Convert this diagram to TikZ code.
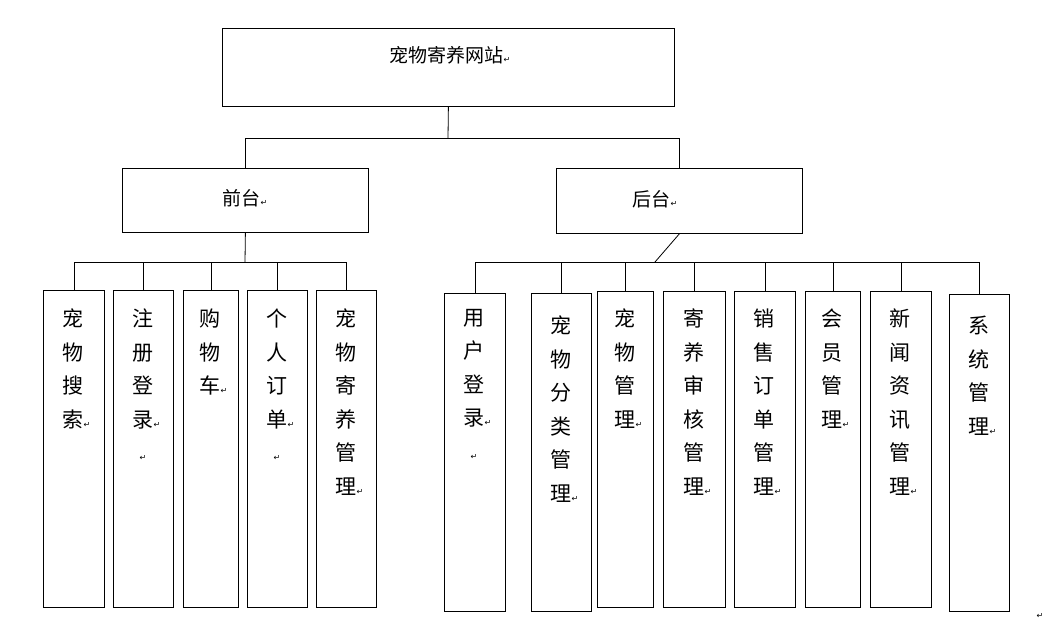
\documentclass[tikz,border=0pt]{standalone}
\usepackage{fontspec}
\setmainfont{Noto Sans CJK SC}
\newfontfamily\dvs{DejaVu Sans}
\newcommand\retm{{\dvs\fontsize{8}{8}\selectfont ↵}}
\newcommand\rr{\rlap{\retm}}
\begin{document}
\begin{tikzpicture}[x=1pt,y=-1pt,
  box/.style={draw,line width=0.8pt,anchor=north west,inner sep=0pt},
  vt/.style={anchor=north,align=center,inner sep=0pt,font=\fontsize{21}{33.5}\selectfont},
  ht/.style={inner sep=0pt,font=\fontsize{19}{22}\selectfont},
  ln/.style={line width=0.8pt}]
\useasboundingbox (0,0) rectangle (1061,634);
\node[box,minimum width=452pt,minimum height=78pt] (top) at (222,28) {};
\node[ht] (tt) at (450,55) {宠物寄养网站\retm};
\node[box,minimum width=246pt,minimum height=64pt] (fr) at (122,168) {};
\node[ht] (frt) at (245,198) {前台\retm};
\node[box,minimum width=246pt,minimum height=65pt] (bk) at (556,168) {};
\node[ht] (bkt) at (655,199) {后台\retm};
\coordinate (j0) at (448,138);
\draw[ln] (top.south) -- (j0);
\draw[ln] (j0) -| (fr.north);
\draw[ln] (j0) -| (bk.north);
% front leaves
\node[box,minimum width=61pt,minimum height=317pt] (f1) at (43,290) {};
\node[box,minimum width=60pt,minimum height=317pt] (f2) at (113,290) {};
\node[box,minimum width=55pt,minimum height=317pt] (f3) at (183,290) {};
\node[box,minimum width=60pt,minimum height=317pt] (f4) at (247,290) {};
\node[box,minimum width=60pt,minimum height=317pt] (f5) at (316,290) {};
\node[vt] (f1t) at (73,309) {宠\\物\\搜\\索\rr};
\node[vt] (f2t) at (143,309) {注\\册\\登\\录\rr\\\retm};
\node[vt] (f3t) at (210,309) {购\\物\\车\rr};
\node[vt] (f4t) at (277,309) {个\\人\\订\\单\rr\\\retm};
\node[vt] (f5t) at (346,309) {宠\\物\\寄\\养\\管\\理\rr};
\coordinate (jf) at (245,262);
\draw[ln] (fr.south) -- (jf);
\foreach \n in {f1,f2,f3,f4,f5}{\draw[ln] (jf) -| (\n.north);}
% back leaves
\node[box,minimum width=61pt,minimum height=318pt] (b1) at (444,293) {};
\node[box,minimum width=60pt,minimum height=318pt] (b2) at (531,293) {};
\node[box,minimum width=56pt,minimum height=316pt] (b3) at (597,291) {};
\node[box,minimum width=62pt,minimum height=316pt] (b4) at (663,291) {};
\node[box,minimum width=61pt,minimum height=316pt] (b5) at (734,291) {};
\node[box,minimum width=55pt,minimum height=316pt] (b6) at (805,291) {};
\node[box,minimum width=61pt,minimum height=316pt] (b7) at (870,291) {};
\node[box,minimum width=60pt,minimum height=317pt] (b8) at (949,294) {};
\node[vt] (b1t) at (474,309) {用\\户\\登\\录\rr\\\retm};
\node[vt] (b2t) at (561,316) {宠\\物\\分\\类\\管\\理\rr};
\node[vt] (b3t) at (625,309) {宠\\物\\管\\理\rr};
\node[vt] (b4t) at (694,309) {寄\\养\\审\\核\\管\\理\rr};
\node[vt] (b5t) at (764,309) {销\\售\\订\\单\\管\\理\rr};
\node[vt] (b6t) at (832,309) {会\\员\\管\\理\rr};
\node[vt] (b7t) at (900,309) {新\\闻\\资\\讯\\管\\理\rr};
\node[vt] (b8t) at (979,316) {系\\统\\管\\理\rr};
\coordinate (jb) at (655,262);
\draw[ln] (bk.south) -- (jb);
\foreach \n in {b1,b2,b3,b4,b5,b6,b7,b8}{\draw[ln] (jb) -| (\n.north);}
\node[inner sep=0pt] (endmark) at (1040,616) {\retm};
\end{tikzpicture}
\end{document}
